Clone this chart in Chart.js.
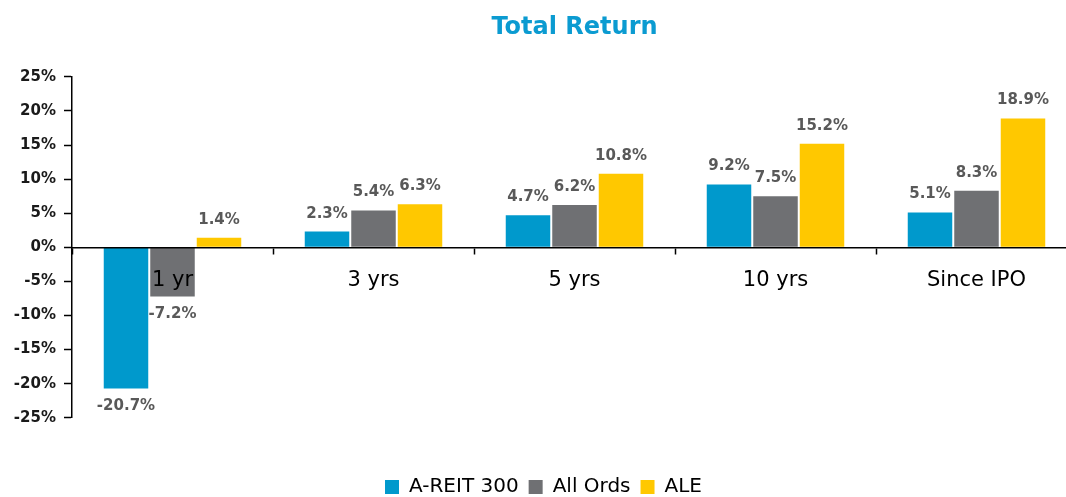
<!DOCTYPE html>
<html>
<head>
<meta charset="utf-8">
<script src="https://cdn.jsdelivr.net/npm/chart.js@4/dist/chart.umd.min.js"></script>
<style>
  html, body { margin: 0; padding: 0; background: #fff; overflow: hidden; }
  #wrap { width: 1078px; height: 497px; }
</style>
</head>
<body>
<div id="wrap"><canvas id="returns-chart"></canvas></div>
<script>
var periods = ["1 yr", "3 yrs", "5 yrs", "10 yrs", "Since IPO"];
var areit = [-20.7, 2.3, 4.7, 9.2, 5.1];
var allOrds = [-7.2, 5.4, 6.2, 7.5, 8.3];
var ale = [1.4, 6.3, 10.8, 15.2, 18.9];

var FONT = '"DejaVu Sans", Verdana, sans-serif';

// value labels above / below each bar
var valueLabels = {
  id: "valueLabels",
  afterDatasetsDraw: function (chart) {
    var ctx = chart.ctx;
    ctx.save();
    ctx.font = "bold 15px " + FONT;
    ctx.fillStyle = "#595959";
    ctx.textAlign = "center";
    ctx.textBaseline = "middle";
    chart.data.datasets.forEach(function (ds, i) {
      chart.getDatasetMeta(i).data.forEach(function (bar, j) {
        var v = ds.data[j];
        var y = v >= 0 ? bar.y - 18 : bar.y + 18;
        ctx.fillText(v.toFixed(1) + "%", bar.x, y);
      });
    });
    ctx.restore();
  }
};

var ctx = document.getElementById("returns-chart");
window.myChart = new Chart(ctx, {
  type: "bar",
  data: {
    labels: periods,
    datasets: [
      { label: "A-REIT 300", data: areit, backgroundColor: "#0099CC" },
      { label: "All Ords", data: allOrds, backgroundColor: "#6F7073" },
      { label: "ALE", data: ale, backgroundColor: "#FFC800" }
    ]
  },
  options: {
    responsive: true,
    maintainAspectRatio: false,
    animation: false,
    categoryPercentage: 0.694,
    barPercentage: 0.957,
    layout: { padding: { left: 10, right: 1, top: 0, bottom: -10 } },
    plugins: {
      tooltip: { enabled: false },
      title: {
        display: true,
        text: "Total Return",
        color: "#0B9BD1",
        fullSize: false,
        font: { family: FONT, size: 24, weight: "bold" },
        padding: { top: 13, bottom: 35 }
      },
      legend: {
        position: "bottom",
        title: { display: true, text: "", font: { size: 1 }, padding: { top: 48, bottom: 0 } },
        labels: {
          color: "#000",
          boxWidth: 14,
          boxHeight: 14,
          padding: 10,
          font: { family: FONT, size: 20 }
        }
      }
    },
    scales: {
      x: {
        position: { y: 0 },
        grid: { drawOnChartArea: false, tickLength: 6, tickColor: "#000", tickWidth: 1.5 },
        border: { color: "#000", width: 1.5, z: 1 },
        ticks: { color: "#000", padding: 15, z: 1, autoSkip: false, maxRotation: 0, font: { family: FONT, size: 21 } }
      },
      y: {
        min: -25,
        max: 25,
        afterFit: function (s) { s.width = 62; },
        grid: { drawOnChartArea: false, tickLength: 8, tickColor: "#000", tickWidth: 1.5 },
        border: { color: "#000", width: 1.5 },
        ticks: {
          stepSize: 5,
          color: "#1a1a1a",
          padding: 8,
          font: { family: FONT, size: 15, weight: "bold" },
          callback: function (v) { return v + "%"; }
        }
      }
    }
  },
  plugins: [valueLabels]
});
</script>
</body>
</html>
